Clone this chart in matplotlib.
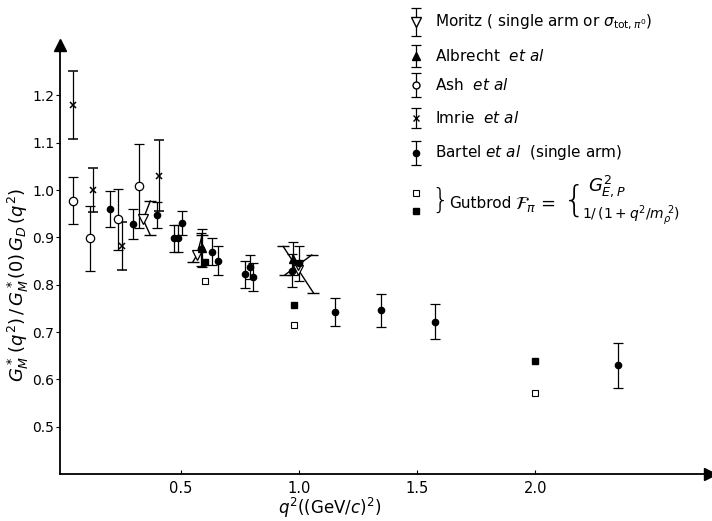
import matplotlib
matplotlib.use("Agg")
import matplotlib.pyplot as plt

plt.rcParams["font.family"] = ["DejaVu Sans"]
plt.rcParams["mathtext.fontset"] = "dejavusans"

# values
BARTEL_Q = [0.199, 0.298, 0.397, 0.472, 0.489, 0.506, 0.585, 0.633, 0.655, 0.771, 0.792, 0.806,
            0.97, 1.0, 1.153, 1.347, 1.578, 2.349]
BARTEL_V = [0.960, 0.928, 0.948, 0.898, 0.898, 0.930, 0.875, 0.870, 0.851, 0.822, 0.838, 0.816,
            0.830, 0.845, 0.743, 0.746, 0.722, 0.630]
BARTEL_E = [0.038, 0.032, 0.027, 0.028, 0.028, 0.025, 0.035, 0.028, 0.030, 0.029, 0.025, 0.030,
            0.035, 0.037, 0.030, 0.035, 0.037, 0.048]

IMRIE_Q = [0.041, 0.128, 0.249, 0.407]
IMRIE_V = [1.180, 1.000, 0.882, 1.030]
IMRIE_E = [0.072, 0.046, 0.050, 0.075]

ASH_Q = [0.041, 0.114, 0.234, 0.321]
ASH_V = [0.978, 0.898, 0.938, 1.009]
ASH_E = [0.049, 0.068, 0.065, 0.088]

ALB_Q = [0.59, 0.975]
ALB_V = [0.878, 0.855]
ALB_E = [0.040, 0.035]

MOR_Q = [0.34, 0.567, 0.997, 0.997]
MOR_V = [0.938, 0.862, 0.832, 0.842]
MOR_HI_Q = [0.37, 0.59, 0.933, 1.054]
MOR_HI_V = [0.977, 0.905, 0.881, 0.863]
MOR_LO_Q = [0.37, 0.55, 1.061, 0.941]
MOR_LO_V = [0.905, 0.848, 0.783, 0.821]

GUT_Q = [0.6, 0.98, 2.0]
GUT_OPEN = [0.808, 0.715, 0.572]
GUT_FILLED = [0.849, 0.757, 0.639]

XTICKS = [0.5, 1.0, 1.5, 2.0]
XTICKLABELS = ["0.5", "1.0", "1.5", "2.0"]
YTICKS = [0.5, 0.6, 0.7, 0.8, 0.9, 1.0, 1.1, 1.2]

K = "black"
fig = plt.figure(figsize=(7.12, 5.21), dpi=100)
ax = fig.add_axes([0.084, 0.090, 0.913, 0.824])
ax.set_xlim(-0.013, 2.74)
ax.set_ylim(0.4, 1.307)

eb = dict(ecolor=K, elinewidth=0.9, capsize=3.5, capthick=0.9, linestyle="none")
ax.errorbar(BARTEL_Q, BARTEL_V, yerr=BARTEL_E, fmt="o", mfc=K, mec=K, ms=4.5, **eb)
ax.errorbar(IMRIE_Q, IMRIE_V, yerr=IMRIE_E, fmt="x", mec=K, ms=5, mew=1.1, **eb)
ax.errorbar(ASH_Q, ASH_V, yerr=ASH_E, fmt="o", mfc="white", mec=K, ms=6, mew=0.9, **eb)
ax.errorbar(ALB_Q, ALB_V, yerr=ALB_E, fmt="^", mfc=K, mec=K, ms=6, **eb)

for q, v, hq, hv, lq, lv in zip(MOR_Q, MOR_V, MOR_HI_Q, MOR_HI_V, MOR_LO_Q, MOR_LO_V):
    ax.plot([lq, q, hq], [lv, v, hv], color=K, lw=1.0)
    ax.plot([hq, lq], [hv, lv], color=K, lw=0, marker="_", ms=8, mew=1.0)
ax.plot(MOR_Q, MOR_V, "v", mfc="white", mec=K, ms=7, mew=0.9, linestyle="none")

ax.plot(GUT_Q, GUT_OPEN, "s", mfc="white", mec=K, ms=4, mew=0.8, linestyle="none")
ax.plot(GUT_Q, GUT_FILLED, "s", mfc=K, mec=K, ms=5, linestyle="none")

# axes with arrow heads
ax.spines[["top", "right"]].set_visible(False)
ax.spines[["left", "bottom"]].set_linewidth(1.3)
ax.plot(1, 0, ">", color=K, ms=8, transform=ax.transAxes, clip_on=False)
ax.plot(0, 1, "^", color=K, ms=8, transform=ax.transAxes, clip_on=False)

ax.set_xticks(XTICKS)
ax.set_xticklabels(XTICKLABELS, fontsize=10.5)
ax.set_yticks(YTICKS)
ax.set_yticklabels([f"{t:.1f}" for t in YTICKS], fontsize=10)
ax.tick_params(axis="x", direction="in", length=3, pad=5)
ax.tick_params(axis="y", direction="out", length=3, pad=1)

ax.set_xlabel(r"$q^2((\mathrm{GeV}/c)^2)$", fontsize=12)
ax.xaxis.set_label_coords(0.415, -0.051)
ax.set_ylabel(r"$G^*_M\,(q^2)\,/\,G^*_M(0)\,G_D\,(q^2)$", fontsize=13)
ax.yaxis.set_label_coords(-0.045, 0.44)

# hand drawn legend in pixel coordinates
lg = fig.add_axes([0, 0, 1, 1], facecolor="none")
lg.set_xlim(0, 712)
lg.set_ylim(521, 0)
lg.axis("off")
sx, tx = 416, 435
rows = [(22, 14, "v", "white", 7, "Moritz ( single arm or $\\sigma_{\\mathrm{tot},\\pi^0}$)"),
        (56, 11, "^", K, 6, "Albrecht  $\\mathit{et\\ al}$"),
        (85, 12, "o", "white", 5, "Ash  $\\mathit{et\\ al}$"),
        (118, 10, "x", K, 5, "Imrie  $\\mathit{et\\ al}$"),
        (153, 12, "o", K, 4.5, "Bartel $\\mathit{et\\ al}$  (single arm)")]
for y, e, m, fc, ms, label in rows:
    lg.errorbar([sx], [y], yerr=[e], fmt=m, mfc=fc, mec=K, ms=ms, ecolor=K,
                elinewidth=0.9, capsize=3.5, capthick=0.9)
    lg.text(tx, y, label, fontsize=11, va="center", ha="left")

lg.plot([sx], [193], "s", mfc="white", mec=K, ms=4, mew=0.8)
lg.plot([sx], [211], "s", mfc=K, mec=K, ms=5)
lg.text(431, 201, "}", fontsize=20, va="center", ha="left", fontweight="light")
lg.text(449, 204, "Gutbrod", fontsize=11, va="center", ha="left")
lg.text(515, 204, r"$\mathcal{F}_\pi$ =", fontsize=13, va="center", ha="left")
lg.text(563, 201, "{", fontsize=26, va="center", ha="left", fontweight="light")
lg.text(588, 186, r"$G^2_{E,P}$", fontsize=13, va="center", ha="left")
lg.text(582, 216, r"$1/\,(1+q^2/m_\rho^{\ 2})$", fontsize=10, va="center", ha="left")

fig.savefig("out.png", dpi=100)
